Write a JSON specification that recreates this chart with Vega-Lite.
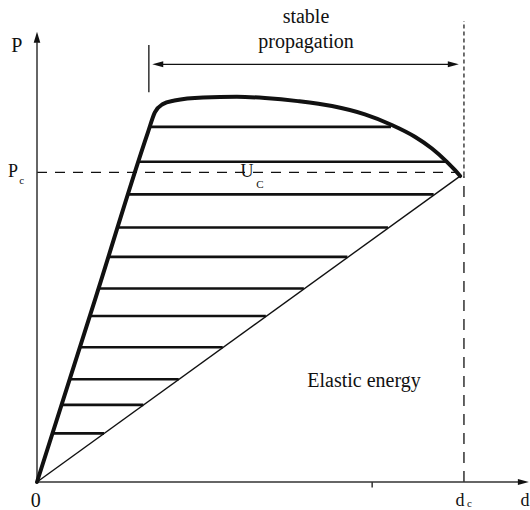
{
  "$schema": "https://vega.github.io/schema/vega-lite/v6.json",
  "width": 491,
  "height": 449,
  "autosize": "none",
  "padding": {"left": 37, "top": 33, "right": 2, "bottom": 28},
  "background": "white",
  "config": {"view": {"stroke": null}},
  "datasets": {
    "loading": [
      {"i": 0, "d": 0.0, "P": 0.0},
      {"i": 1, "d": 0.138, "P": 0.598},
      {"i": 2, "d": 0.26, "P": 1.13},
      {"i": 3, "d": 0.276, "P": 1.194},
      {"i": 4, "d": 0.294, "P": 1.22},
      {"i": 5, "d": 0.322, "P": 1.232},
      {"i": 6, "d": 0.389, "P": 1.242},
      {"i": 7, "d": 0.468, "P": 1.244},
      {"i": 8, "d": 0.534, "P": 1.24},
      {"i": 9, "d": 0.611, "P": 1.23},
      {"i": 10, "d": 0.691, "P": 1.214},
      {"i": 11, "d": 0.768, "P": 1.187},
      {"i": 12, "d": 0.831, "P": 1.153},
      {"i": 13, "d": 0.885, "P": 1.115},
      {"i": 14, "d": 0.925, "P": 1.077},
      {"i": 15, "d": 0.96, "P": 1.034},
      {"i": 16, "d": 0.979, "P": 1.007},
      {"i": 17, "d": 0.991, "P": 0.988}
    ],
    "hatch": [
      {"P": 1.147, "d": 0.264, "d2": 0.829},
      {"P": 1.034, "d": 0.238, "d2": 0.959},
      {"P": 0.929, "d": 0.214, "d2": 0.929},
      {"P": 0.822, "d": 0.189, "d2": 0.822},
      {"P": 0.727, "d": 0.167, "d2": 0.727},
      {"P": 0.625, "d": 0.144, "d2": 0.625},
      {"P": 0.536, "d": 0.123, "d2": 0.536},
      {"P": 0.435, "d": 0.1, "d2": 0.435},
      {"P": 0.332, "d": 0.076, "d2": 0.332},
      {"P": 0.249, "d": 0.057, "d2": 0.249},
      {"P": 0.157, "d": 0.036, "d2": 0.157}
    ],
    "elastic": [{"d": 0.0, "P": 0.0, "d2": 0.991, "P2": 0.988}],
    "axes": [
      {"d": 0.0, "P": 0.0, "d2": 0.0, "P2": 1.42},
      {"d": 0.0, "P": 0.0, "d2": 1.13, "P2": 0.0},
      {"d": 0.785, "P": 0.0, "d2": 0.785, "P2": -0.018}
    ],
    "criticalLoad": [{"d": 0.0, "d2": 0.985, "P": 1.0, "P2": 1.0}],
    "criticalDispUpper": [{"d": 1.0, "d2": 1.0, "P": 0.99, "P2": 1.489}],
    "criticalDispLower": [{"d": 1.0, "d2": 1.0, "P": 0.0, "P2": 0.99}],
    "stable": [
      {"d": 0.28, "d2": 0.975, "P": 1.349, "P2": 1.349},
      {"d": 0.262, "d2": 0.262, "P": 1.259, "P2": 1.411}
    ],
    "heads": [
      {"d": 0.0, "P": 1.454, "dir": "up"},
      {"d": 1.152, "P": 0.0, "dir": "right"},
      {"d": 0.27, "P": 1.349, "dir": "left"},
      {"d": 0.988, "P": 1.349, "dir": "right"}
    ],
    "labelsLarge": [
      {"d": -0.047, "P": 1.388, "text": "P"},
      {"d": -0.003, "P": -0.081, "text": "0"},
      {"d": 0.63, "P": 1.481, "text": "stable"},
      {"d": 0.63, "P": 1.4, "text": "propagation"},
      {"d": 0.766, "P": 0.308, "text": "Elastic energy"}
    ],
    "labelsMedium": [
      {"d": -0.056, "P": 0.985, "text": "P"},
      {"d": 0.492, "P": 0.985, "text": "U"},
      {"d": 0.991, "P": -0.0775, "text": "d"},
      {"d": 1.143, "P": -0.0775, "text": "d"}
    ],
    "labelsSmall": [
      {"d": -0.036, "P": 0.962, "text": "c"},
      {"d": 0.522, "P": 0.949, "text": "C"},
      {"d": 1.013, "P": -0.082, "text": "c"}
    ]
  },
  "encoding": {
    "x": {"field": "d", "type": "quantitative", "scale": {"domain": [0, 1.15], "nice": false, "zero": false}, "axis": null},
    "y": {"field": "P", "type": "quantitative", "scale": {"domain": [0, 1.45], "nice": false, "zero": false}, "axis": null}
  },
  "layer": [
    {
      "data": {"name": "criticalLoad"},
      "mark": {"type": "rule", "color": "#111", "strokeWidth": 1.2, "strokeDash": [10, 8]},
      "encoding": {"x2": {"field": "d2"}}
    },
    {
      "data": {"name": "criticalDispUpper"},
      "mark": {"type": "rule", "color": "#111", "strokeWidth": 1.2, "strokeDash": [4, 3]},
      "encoding": {"y2": {"field": "P2"}}
    },
    {
      "data": {"name": "criticalDispLower"},
      "mark": {"type": "rule", "color": "#111", "strokeWidth": 1.3, "strokeDash": [11, 8]},
      "encoding": {"y2": {"field": "P2"}}
    },
    {
      "data": {"name": "hatch"},
      "mark": {"type": "rule", "color": "#111", "strokeWidth": 2.6},
      "encoding": {"x2": {"field": "d2"}}
    },
    {
      "data": {"name": "elastic"},
      "mark": {"type": "rule", "color": "#111", "strokeWidth": 1.4},
      "encoding": {"x2": {"field": "d2"}, "y2": {"field": "P2"}}
    },
    {
      "data": {"name": "axes"},
      "mark": {"type": "rule", "color": "#333", "strokeWidth": 1.5},
      "encoding": {"x2": {"field": "d2"}, "y2": {"field": "P2"}}
    },
    {
      "data": {"name": "stable"},
      "mark": {"type": "rule", "color": "#111", "strokeWidth": 1.3},
      "encoding": {"x2": {"field": "d2"}, "y2": {"field": "P2"}}
    },
    {
      "data": {"name": "loading"},
      "mark": {"type": "line", "color": "#111", "strokeWidth": 4, "interpolate": "monotone", "strokeCap": "round", "strokeJoin": "round"},
      "encoding": {"order": {"field": "i", "type": "quantitative"}}
    },
    {
      "data": {"name": "heads"},
      "mark": {"type": "point", "filled": true, "color": "#111", "opacity": 1, "size": 484, "strokeWidth": 0},
      "encoding": {
        "shape": {
          "field": "dir",
          "type": "nominal",
          "scale": {
            "domain": ["up", "right", "left"],
            "range": ["M0,0L-0.3,1L0.3,1Z", "M0,0L-1,-0.28L-1,0.28Z", "M0,0L1,-0.28L1,0.28Z"]
          },
          "legend": null
        }
      }
    },
    {
      "data": {"name": "labelsLarge"},
      "mark": {"type": "text", "font": "'Liberation Serif', 'Times New Roman', 'DejaVu Serif', serif", "fontSize": 20, "align": "center", "baseline": "alphabetic", "color": "#111"},
      "encoding": {"text": {"field": "text"}}
    },
    {
      "data": {"name": "labelsMedium"},
      "mark": {"type": "text", "font": "'Liberation Serif', 'Times New Roman', 'DejaVu Serif', serif", "fontSize": 18, "align": "center", "baseline": "alphabetic", "color": "#111"},
      "encoding": {"text": {"field": "text"}}
    },
    {
      "data": {"name": "labelsSmall"},
      "mark": {"type": "text", "font": "'Liberation Serif', 'Times New Roman', 'DejaVu Serif', serif", "fontSize": 11, "align": "center", "baseline": "alphabetic", "color": "#111"},
      "encoding": {"text": {"field": "text"}}
    }
  ]
}
